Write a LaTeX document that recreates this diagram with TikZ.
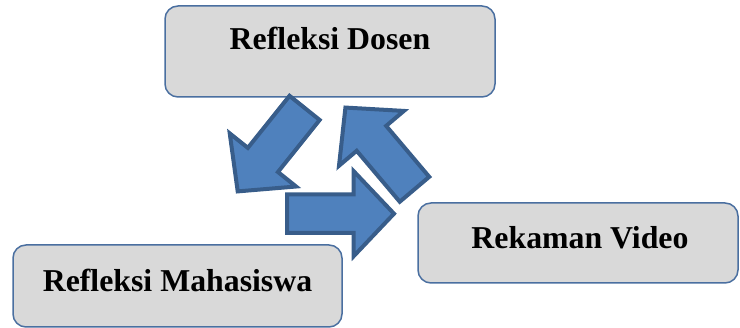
\documentclass[tikz,border=0pt]{standalone}
\usepackage{fontspec}
\setmainfont{Liberation Serif}
\definecolor{boxfill}{HTML}{D9D9D9}
\definecolor{boxline}{HTML}{4A6FA0}
\definecolor{arrfill}{HTML}{4F81BD}
\definecolor{arrline}{HTML}{385D8A}
\tikzset{
  box/.style={draw=boxline, fill=boxfill, line width=1.5pt, rounded corners=13pt, rectangle, inner sep=0pt},
  lbl/.style={anchor=base, inner sep=0pt, font=\fontsize{31.8pt}{36pt}\selectfont\bfseries},
  arrowshape/.style={draw=arrline, fill=arrfill, line width=4pt, line join=miter},
  blockarrow/.pic={\path[arrowshape] (0,-19.3) -- (66.7,-19.3) -- (66.7,-42.5) -- (107,0) -- (66.7,42.5) -- (66.7,19.3) -- (0,19.3) -- cycle;}
}
\begin{document}
\begin{tikzpicture}[x=1pt,y=1pt]
\useasboundingbox (0,0) rectangle (740,328);
% boxes
\node (bdosen) [box, minimum width=330pt, minimum height=91pt] at (330,276.5) {};
\node (bvideo) [box, minimum width=320pt, minimum height=80pt] at (578,85) {};
\node (bmhs) [box, minimum width=329pt, minimum height=82pt] at (177.5,42) {};
\node (dosen) [lbl] at (330,278) {Refleksi Dosen};
\node (video) [lbl] at (580,79.7) {Rekaman Video};
\node (mhs) [lbl] at (177.5,36.3) {Refleksi Mahasiswa};
% block arrows
\pic (a1) [rotate=231.3] at (304.6,220.1) {blockarrow};
\pic (a2) [rotate=130.2] at (414.5,138.7) {blockarrow};
\pic (a3) at (287,114.3) {blockarrow};
\end{tikzpicture}
\end{document}
